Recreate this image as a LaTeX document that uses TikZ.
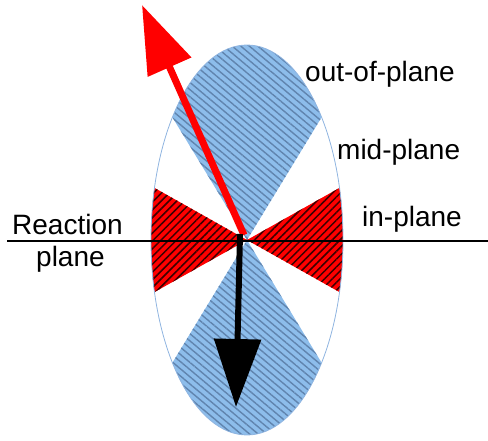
\documentclass[tikz,border=0pt]{standalone}
\usepackage{fontspec}
\setmainfont{Liberation Sans}
\usetikzlibrary{arrows.meta,patterns.meta}
\definecolor{bfill}{HTML}{8DBDEB}
\definecolor{bline}{HTML}{6084AE}
\definecolor{rline}{HTML}{3A0000}
\definecolor{edge}{HTML}{8FB4E0}
\begin{document}
\begin{tikzpicture}[x=1pt,y=1pt,
  lbl/.style={anchor=base west,inner sep=0pt,font=\fontsize{28}{28}\selectfont},
  bluesec/.style={fill=bfill,postaction={pattern={Lines[angle=-40,distance=5.5pt,line width=1.4pt]},pattern color=bline}},
  redsec/.style={fill=red,postaction={pattern={Lines[angle=45,distance=5.5pt,line width=1.5pt]},pattern color=rline}},
  bigarrow/.style={-{Triangle[length=68pt,width=46pt]}}]
\useasboundingbox (0,0) rectangle (488,440);
\def\cx{247}\def\cy{200}\def\ra{96}\def\rb{195}
\coordinate (c) at (\cx,\cy);
% blue sectors
\path[bluesec] (c) -- ({\cx+\ra*cos(39)},{\cy+\rb*sin(39)}) arc[start angle=39,end angle=141,x radius=\ra pt,y radius=\rb pt] -- cycle;
\path[bluesec] (c) -- ({\cx+\ra*cos(219)},{\cy+\rb*sin(219)}) arc[start angle=219,end angle=321,x radius=\ra pt,y radius=\rb pt] -- cycle;
% red sectors
\path[redsec] (c) -- ({\cx+\ra*cos(-15.5)},{\cy+\rb*sin(-15.5)}) arc[start angle=-15.5,end angle=15.5,x radius=\ra pt,y radius=\rb pt] -- cycle;
\path[redsec] (c) -- ({\cx+\ra*cos(164.5)},{\cy+\rb*sin(164.5)}) arc[start angle=164.5,end angle=195.5,x radius=\ra pt,y radius=\rb pt] -- cycle;
% ellipse outline
\draw[edge,line width=0.8pt] (c) ellipse[x radius=\ra pt,y radius=\rb pt];
% reaction plane line
\coordinate (l1) at (7,199);
\coordinate (l2) at (488,199);
\draw[line width=2.6pt] (l1) -- (l2);
% arrows
\coordinate (rs) at (244,205);
\coordinate (rt) at (142,435);
\draw[red,line width=7pt,bigarrow] (rs) -- (rt);
\coordinate (bs) at (240,206);
\coordinate (bt) at (236,33);
\draw[black,line width=6pt,bigarrow] (bs) -- (bt);
% labels
\node[lbl] (oop) at (305,358) {out-of-plane};
\node[lbl] (mid) at (337,280) {mid-plane};
\node[lbl] (inp) at (362,213) {in-plane};
\node[lbl] (rea) at (12,205) {Reaction};
\node[lbl] (pla) at (36,173) {plane};
\end{tikzpicture}
\end{document}
